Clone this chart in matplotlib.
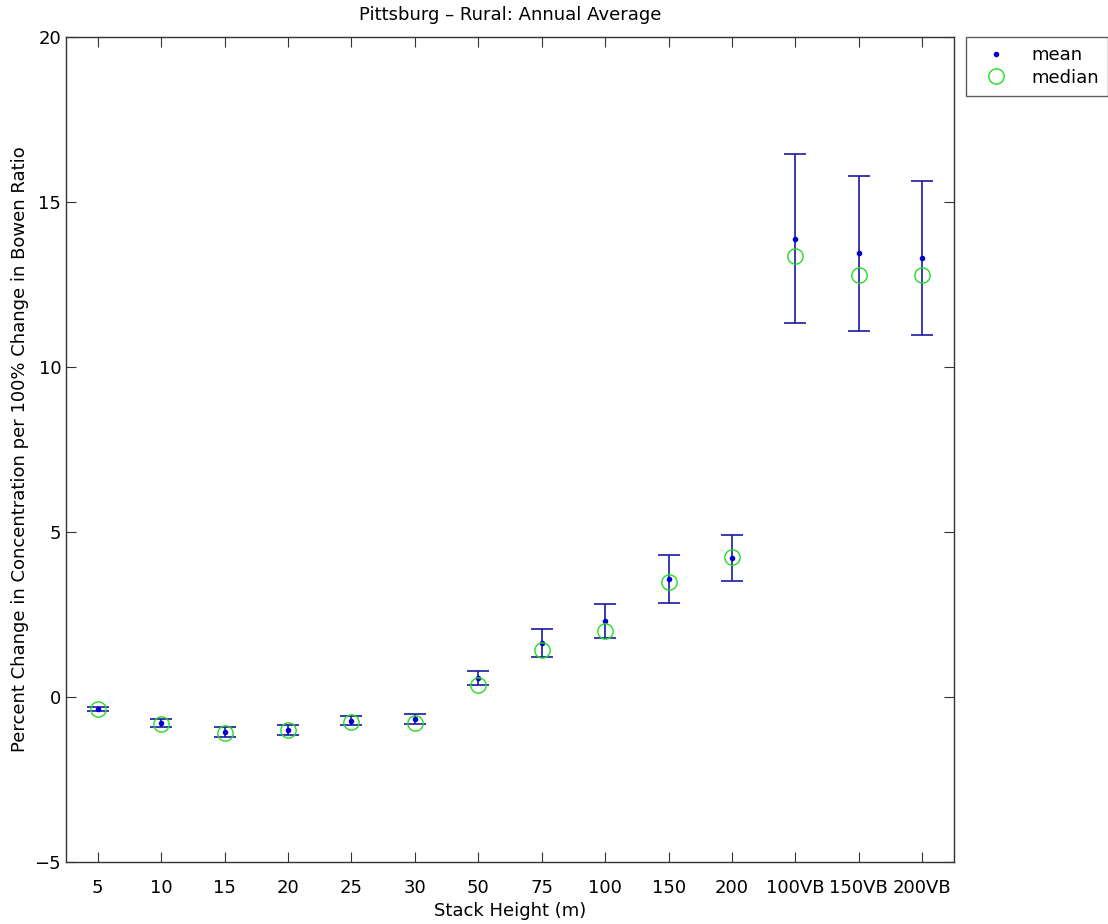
import matplotlib
matplotlib.use("Agg")
import matplotlib.pyplot as plt
import numpy as np

plt.rcParams['font.family'] = ['DejaVu Sans']

categories = ["5", "10", "15", "20", "25", "30", "50", "75", "100", "150", "200",
              "100VB", "150VB", "200VB"]
mean_vals = [-0.37, -0.80, -1.06, -1.00, -0.72, -0.66, 0.58, 1.63, 2.31, 3.58, 4.22,
             13.88, 13.44, 13.31]
err_vals = [0.06, 0.12, 0.16, 0.14, 0.13, 0.15, 0.21, 0.43, 0.52, 0.73, 0.70,
            2.56, 2.36, 2.33]
median_vals = [-0.37, -0.83, -1.10, -1.00, -0.76, -0.80, 0.36, 1.42, 2.00, 3.49, 4.25,
               13.37, 12.79, 12.79]

x = np.arange(1, len(categories) + 1)

fig = plt.figure(figsize=(11.08, 9.24), dpi=100)
ax = fig.add_axes([0.0596, 0.0671, 0.8014, 0.8929])

ax.errorbar(x, mean_vals, yerr=err_vals, fmt='none', ecolor='#1a1aa6',
            elinewidth=1.2, capsize=8, capthick=1.2)
mean_line, = ax.plot(x, mean_vals, linestyle='none', marker='.', color='#0000cc',
                     markersize=6, label='mean')
median_line, = ax.plot(x, median_vals, linestyle='none', marker='o', markersize=11,
                       markerfacecolor='none', markeredgecolor='#22dd22',
                       markeredgewidth=1.0, label='median')

ax.set_xlim(0.5, len(categories) + 0.5)
ax.set_ylim(-5, 20)
ax.set_xticks(x)
ax.set_xticklabels(categories)
ax.set_yticks([-5, 0, 5, 10, 15, 20])
ax.tick_params(direction='in', top=True, right=True, labelsize=13, length=7,
               color='#333333')
ax.tick_params(axis='x', pad=12)
for s in ax.spines.values():
    s.set_linewidth(1.0)
    s.set_edgecolor('#333333')

ax.set_title("Pittsburg \u2013 Rural: Annual Average", fontsize=13, pad=12)
ax.set_xlabel("Stack Height (m)", fontsize=13, labelpad=4)
ax.set_ylabel("Percent Change in Concentration per 100% Change in Bowen Ratio",
              fontsize=13, labelpad=4)

leg = fig.legend(handles=[mean_line, median_line], loc='upper left',
                 bbox_to_anchor=(966 / 1108, 1 - 37 / 924), borderaxespad=0,
                 fontsize=13, frameon=True, fancybox=False, edgecolor='#333333',
                 borderpad=0.5, handlelength=2.3, handletextpad=0.8,
                 labelspacing=0.25)
leg.get_frame().set_linewidth(1.0)

fig.savefig("out.png", dpi=100)
